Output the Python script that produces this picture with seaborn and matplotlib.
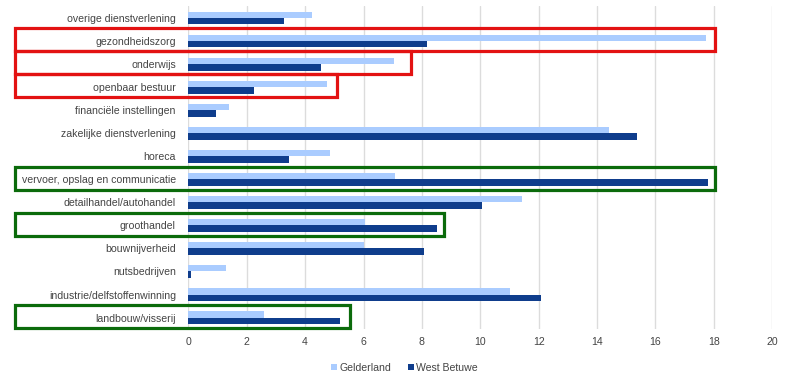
import pandas as pd
import seaborn as sns
import matplotlib.pyplot as plt
from matplotlib.patches import Rectangle

sectors = ['overige dienstverlening', 'gezondheidszorg', 'onderwijs', 'openbaar bestuur',
           'financiële instellingen', 'zakelijke dienstverlening', 'horeca',
           'vervoer, opslag en communicatie', 'detailhandel/autohandel', 'groothandel',
           'bouwnijverheid', 'nutsbedrijven', 'industrie/delfstoffenwinning', 'landbouw/visserij']
gelderland = [4.23, 17.72, 7.03, 4.75, 1.38, 14.40, 4.84, 7.09, 11.44, 6.04, 6.03, 1.29, 11.03, 2.58]
west_betuwe = [3.29, 8.19, 4.54, 2.25, 0.96, 15.38, 3.44, 17.79, 10.06, 8.52, 8.08, 0.09, 12.08, 5.20]

# omkaderde sectoren (rechterrand in x-eenheden)
highlight = [('gezondheidszorg', 18.05, '#e31212'),
             ('onderwijs', 7.62, '#e31212'),
             ('openbaar bestuur', 5.08, '#e31212'),
             ('vervoer, opslag en communicatie', 18.05, '#0b6b0b'),
             ('groothandel', 8.76, '#0b6b0b'),
             ('landbouw/visserij', 5.54, '#0b6b0b')]

df = pd.DataFrame({'sector': sectors * 2,
                   'waarde': gelderland + west_betuwe,
                   'regio': ['Gelderland'] * len(sectors) + ['West Betuwe'] * len(sectors)})

sns.set_style('white')
plt.rcParams['font.family'] = ['Liberation Sans', 'DejaVu Sans']

fig = plt.figure(figsize=(7.89, 3.80), dpi=100)
ax = fig.add_axes([0.2387, 0.134, 0.7401, 0.849])

sns.barplot(data=df, x='waarde', y='sector', hue='regio', orient='h',
            palette=['#aaccff', '#0f3d8c'], width=0.56, gap=0,
            linewidth=0, saturation=1, ax=ax, zorder=3)

ax.set_xlim(0, 20)
ax.set_ylim(13.5, -0.5)
ax.set_xticks(range(0, 21, 2))
ax.grid(axis='x', color='#dcdcdc', linewidth=1, zorder=0)
ax.grid(axis='y', visible=False)
for s in ax.spines.values():
    s.set_visible(False)
ax.set_xlabel('')
ax.set_ylabel('')
ax.tick_params(axis='both', length=0, labelsize=7.6, labelcolor='#444444')
ax.tick_params(axis='x', pad=6)
ax.tick_params(axis='y', pad=9)

for name, right, col in highlight:
    i = sectors.index(name)
    left = -5.93
    ax.add_patch(Rectangle((left, i - 0.55), right - left, 1.0, fill=False,
                           edgecolor=col, linewidth=2.3, clip_on=False, zorder=5))

leg = ax.legend(loc='upper center', bbox_to_anchor=(0.37, -0.075), ncol=2, frameon=False,
                fontsize=7.6, handlelength=0.6, handleheight=0.6, handletextpad=0.2,
                columnspacing=1.6, labelcolor='#444444')

fig.savefig('out.png', dpi=100)
